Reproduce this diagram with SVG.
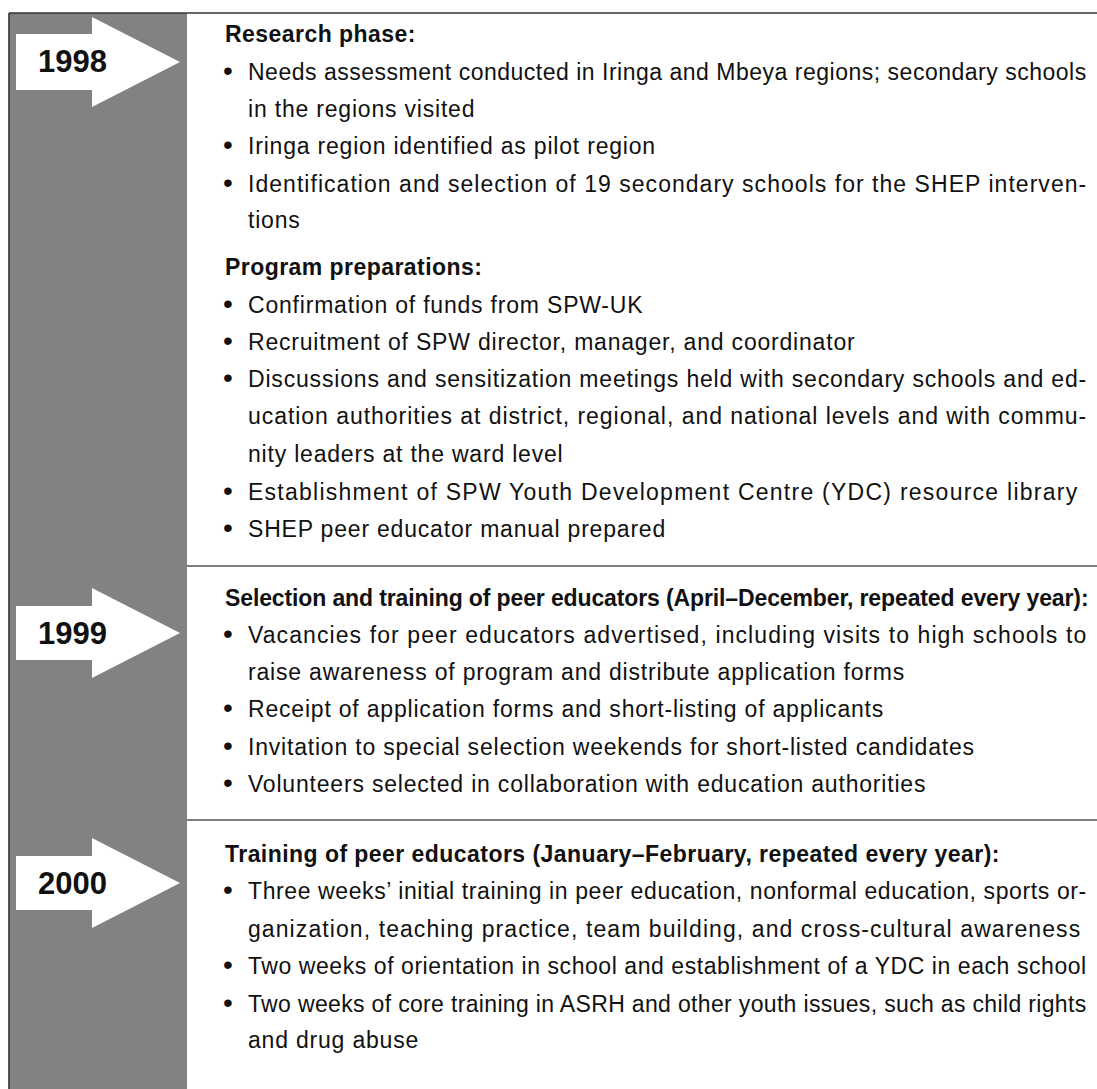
<svg xmlns="http://www.w3.org/2000/svg" width="1097" height="1089" viewBox="0 0 1097 1089">
  <style>
    .bar { fill: #828282; }
    .rule { stroke: #555555; stroke-width: 1.6; fill: none; }
    .frame { stroke: #333333; stroke-width: 1.6; fill: none; }
    .arrow { fill: #ffffff; }
    .year { font-family: "Liberation Sans", Arial, sans-serif; font-weight: bold; font-size: 31px; fill: #111111; }
    .h { font-family: "Liberation Sans", Arial, sans-serif; font-weight: bold; font-size: 23px; letter-spacing: 0.45px; fill: #111111; }
    .t { font-family: "Liberation Sans", Arial, sans-serif; font-size: 23px; letter-spacing: 0.8px; fill: #111111; }
    .b { font-family: "Liberation Sans", Arial, sans-serif; font-size: 28px; fill: #111111; }
  </style>
  <rect x="0" y="0" width="1097" height="1089" fill="#ffffff"/>
  <rect class="bar" x="9" y="13" width="178" height="1076"/>
  <g id="frame">
    <line class="frame" x1="9" y1="13" x2="1097" y2="13"/>
    <line class="frame" x1="9" y1="13" x2="9" y2="1089"/>
  </g>
  <g id="connectors">
    <line class="rule" x1="187" y1="566" x2="1097" y2="566"/>
    <line class="rule" x1="187" y1="820" x2="1097" y2="820"/>
  </g>
  <g id="year-1998">
    <polygon class="arrow" points="16,34 92,34 92,17 180,62 92,107 92,90 16,90"/>
    <text class="year" x="38" y="72">1998</text>
  </g>
  <g id="year-1999">
    <polygon class="arrow" points="16,606 92,606 92,588 180,633 92,678 92,660 16,660"/>
    <text class="year" x="38" y="644">1999</text>
  </g>
  <g id="year-2000">
    <polygon class="arrow" points="16,856 92,856 92,838 180,883 92,928 92,910 16,910"/>
    <text class="year" x="38" y="894">2000</text>
  </g>
  <g id="section-1998">
    <text class="h" x="225" y="42">Research phase:</text>
    <text class="b" x="223" y="80">•</text>
    <text class="t" x="248" y="80" textLength="839" lengthAdjust="spacing">Needs assessment conducted in Iringa and Mbeya regions; secondary schools</text>
    <text class="t" x="248" y="117">in the regions visited</text>
    <text class="b" x="223" y="154">•</text>
    <text class="t" x="248" y="154">Iringa region identified as pilot region</text>
    <text class="b" x="223" y="192">•</text>
    <text class="t" x="248" y="192" textLength="839" lengthAdjust="spacing">Identification and selection of 19 secondary schools for the SHEP interven-</text>
    <text class="t" x="248" y="228">tions</text>
    <text class="h" x="225" y="275">Program preparations:</text>
    <text class="b" x="223" y="313">•</text>
    <text class="t" x="248" y="313">Confirmation of funds from SPW-UK</text>
    <text class="b" x="223" y="350">•</text>
    <text class="t" x="248" y="350">Recruitment of SPW director, manager, and coordinator</text>
    <text class="b" x="223" y="387">•</text>
    <text class="t" x="248" y="387" textLength="839" lengthAdjust="spacing">Discussions and sensitization meetings held with secondary schools and ed-</text>
    <text class="t" x="248" y="424" textLength="839" lengthAdjust="spacing">ucation authorities at district, regional, and national levels and with commu-</text>
    <text class="t" x="248" y="462">nity leaders at the ward level</text>
    <text class="b" x="223" y="500">•</text>
    <text class="t" x="248" y="500" textLength="830" lengthAdjust="spacing">Establishment of SPW Youth Development Centre (YDC) resource library</text>
    <text class="b" x="223" y="537">•</text>
    <text class="t" x="248" y="537">SHEP peer educator manual prepared</text>
  </g>
  <g id="section-1999">
    <text class="h" x="225" y="606" textLength="864" lengthAdjust="spacing">Selection and training of peer educators (April–December, repeated every year):</text>
    <text class="b" x="223" y="643">•</text>
    <text class="t" x="248" y="643" textLength="839" lengthAdjust="spacing">Vacancies for peer educators advertised, including visits to high schools to</text>
    <text class="t" x="248" y="680">raise awareness of program and distribute application forms</text>
    <text class="b" x="223" y="717">•</text>
    <text class="t" x="248" y="717">Receipt of application forms and short-listing of applicants</text>
    <text class="b" x="223" y="755">•</text>
    <text class="t" x="248" y="755">Invitation to special selection weekends for short-listed candidates</text>
    <text class="b" x="223" y="792">•</text>
    <text class="t" x="248" y="792">Volunteers selected in collaboration with education authorities</text>
  </g>
  <g id="section-2000">
    <text class="h" x="225" y="862">Training of peer educators (January–February, repeated every year):</text>
    <text class="b" x="223" y="899">•</text>
    <text class="t" x="248" y="899" textLength="839" lengthAdjust="spacing">Three weeks’ initial training in peer education, nonformal education, sports or-</text>
    <text class="t" x="248" y="937" textLength="833" lengthAdjust="spacing">ganization, teaching practice, team building, and cross-cultural awareness</text>
    <text class="b" x="223" y="974">•</text>
    <text class="t" x="248" y="974" textLength="839" lengthAdjust="spacing">Two weeks of orientation in school and establishment of a YDC in each school</text>
    <text class="b" x="223" y="1012">•</text>
    <text class="t" x="248" y="1012" textLength="839" lengthAdjust="spacing">Two weeks of core training in ASRH and other youth issues, such as child rights</text>
    <text class="t" x="248" y="1048">and drug abuse</text>
  </g>
</svg>
